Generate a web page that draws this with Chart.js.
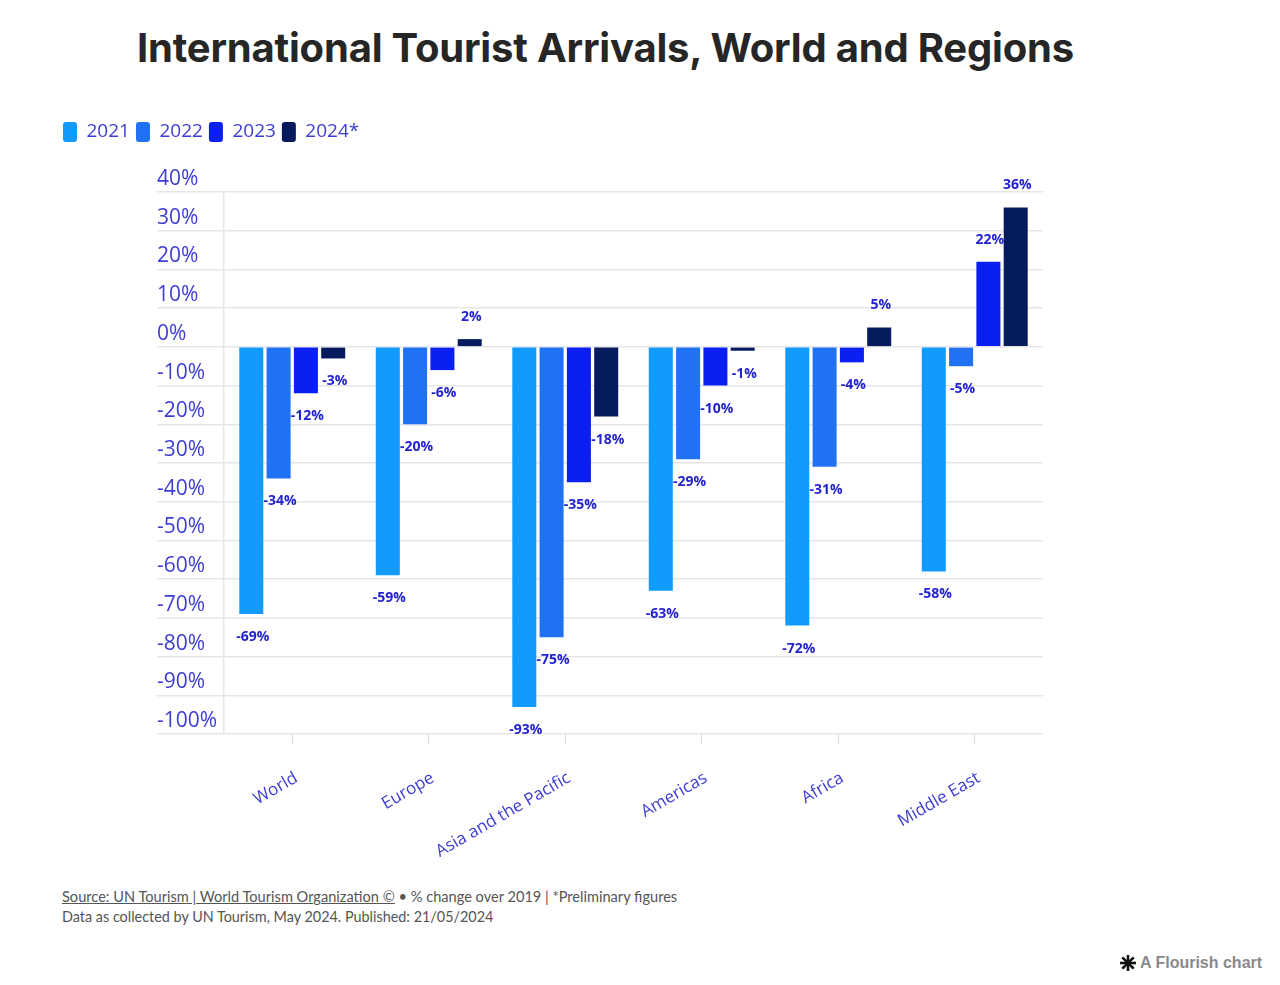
<!DOCTYPE html>
<html>
<head>
<meta charset="utf-8">
<script src="https://cdn.jsdelivr.net/npm/chart.js@4"></script>
<style>
  html, body { margin: 0; padding: 0; background: #fff; }
  body { width: 1280px; height: 985px; position: relative; overflow: hidden; }
  #title { position: absolute; left: 137px; top: 26px; font-family: Inter, "Noto Sans", sans-serif; font-weight: 700; font-size: 40px; line-height: 44px; color: #262626; white-space: nowrap; letter-spacing: -0.2px; }
  #wrap { position: absolute; left: 57px; top: 116px; width: 986px; height: 758px; }
  #footer { position: absolute; left: 62px; top: 887px; font-family: Lato, "Open Sans", sans-serif; font-size: 14.6px; line-height: 20px; color: #555; white-space: nowrap; }
  #footer .l2 { font-size: 14.4px; }
  #footer u { text-decoration: underline; }
  #credit { position: absolute; left: 1119px; top: 954px; font-family: "Liberation Sans", Arial, sans-serif; font-weight: 700; font-size: 16px; color: #8a8a8a; white-space: nowrap; display: flex; align-items: center; }
  #credit svg { margin-right: 3px; }
</style>
</head>
<body>
<div id="title">International Tourist Arrivals, World and Regions</div>
<div id="wrap"><canvas id="c"></canvas></div>
<div id="footer"><u>Source: UN Tourism | World Tourism Organization ©</u> • % change over 2019 | *Preliminary figures<br><span class="l2">Data as collected by UN Tourism, May 2024. Published: 21/05/2024</span></div>
<div id="credit"><svg width="18" height="18" viewBox="0 0 18 18"><g stroke="#111" stroke-width="2.6" stroke-linecap="butt"><line x1="9" y1="1" x2="9" y2="17"/><line x1="1" y1="9" x2="17" y2="9"/><line x1="3.3" y1="3.3" x2="14.7" y2="14.7"/><line x1="14.7" y1="3.3" x2="3.3" y2="14.7"/></g></svg>A Flourish chart</div>
<script>
const categories = ["World", "Europe", "Asia and the Pacific", "Americas", "Africa", "Middle East"];
const seriesNames = ["2021", "2022", "2023", "2024*"];
const values2021 = [-69, -59, -93, -63, -72, -58];
const values2022 = [-34, -20, -75, -29, -31, -5];
const values2023 = [-12, -6, -35, -10, -4, 22];
const values2024 = [-3, 2, -18, -1, 5, 36];
const seriesColors = ["#129bff", "#2072f3", "#0a1ff2", "#061b5e"];
const yTicks = [40, 30, 20, 10, 0, -10, -20, -30, -40, -50, -60, -70, -80, -90, -100];

const axisColor = "#3d3dd4";
const labelColor = "#2323d0";
const gridColor = "#e6e6e6";

const legendSpacer = {
  id: 'legendSpacer',
  beforeInit(chart) {
    if (!chart.legend) return;
    const orig = chart.legend.fit;
    chart.legend.fit = function () {
      orig.call(this);
      this.height += 40;
    };
  }
};

const yLabels = {
  id: 'yLabels',
  afterDraw(chart) {
    const s = chart.scales.y;
    const ctx = chart.ctx;
    ctx.save();
    ctx.font = '21px "Open Sans", sans-serif';
    ctx.fillStyle = axisColor;
    ctx.textAlign = 'left';
    ctx.textBaseline = 'middle';
    s.ticks.forEach(t => {
      const y = s.getPixelForValue(t.value);
      ctx.fillText(t.value + '%', chart.chartArea.left - 67, y - 13);
    });
    ctx.restore();
  }
};

const barLabels = {
  id: 'barLabels',
  afterDatasetsDraw(chart) {
    const ctx = chart.ctx;
    ctx.save();
    ctx.font = 'bold 14px "Open Sans", sans-serif';
    ctx.fillStyle = labelColor;
    ctx.textAlign = 'center';
    ctx.textBaseline = 'middle';
    chart.data.datasets.forEach((ds, di) => {
      const meta = chart.getDatasetMeta(di);
      meta.data.forEach((el, i) => {
        const v = ds.data[i];
        const y = v < 0 ? el.y + 23 : el.y - 22;
        ctx.fillText(v + '%', el.x + 1.5, y);
      });
    });
    ctx.restore();
  }
};

const allSeries = [values2021, values2022, values2023, values2024];

new Chart(document.getElementById('c'), {
  type: 'bar',
  data: {
    labels: categories,
    datasets: allSeries.map((d, i) => ({
      label: seriesNames[i],
      data: d,
      backgroundColor: seriesColors[i],
      borderColor: seriesColors[i],
      borderWidth: 0,
      borderRadius: 0,
      categoryPercentage: 0.8,
      barPercentage: 0.88
    }))
  },
  options: {
    responsive: true,
    maintainAspectRatio: false,
    animation: false,
    layout: { padding: 0 },
    plugins: {
      legend: {
        position: 'top',
        align: 'start',
        labels: {
          boxWidth: 14,
          boxHeight: 20,
          padding: 6,
          color: axisColor,
          font: { family: '"Open Sans", sans-serif', size: 19 },
          useBorderRadius: true,
          borderRadius: 3
        }
      },
      tooltip: { enabled: false },
      title: { display: false }
    },
    scales: {
      x: {
        grid: { display: true, drawOnChartArea: false, drawTicks: true, tickLength: 10, offset: false, color: '#dddddd' },
        border: { display: false },
        ticks: {
          color: axisColor,
          font: { family: '"Open Sans", sans-serif', size: 17 },
          minRotation: 30,
          maxRotation: 30,
          padding: 24,
          labelOffset: 4,
          autoSkip: false
        },
        afterFit(scale) { scale.height = 140; }
      },
      y: {
        min: -100,
        max: 40,
        afterBuildTicks(scale) { scale.ticks = yTicks.map(v => ({ value: v })); },
        grid: { color: gridColor, drawTicks: true, tickLength: 67, lineWidth: 1.5 },
        border: { display: true, color: gridColor, width: 1.5 },
        ticks: { display: false },
        afterFit(scale) { scale.width = 167; }
      }
    }
  },
  plugins: [legendSpacer, yLabels, barLabels]
});
</script>
</body>
</html>
